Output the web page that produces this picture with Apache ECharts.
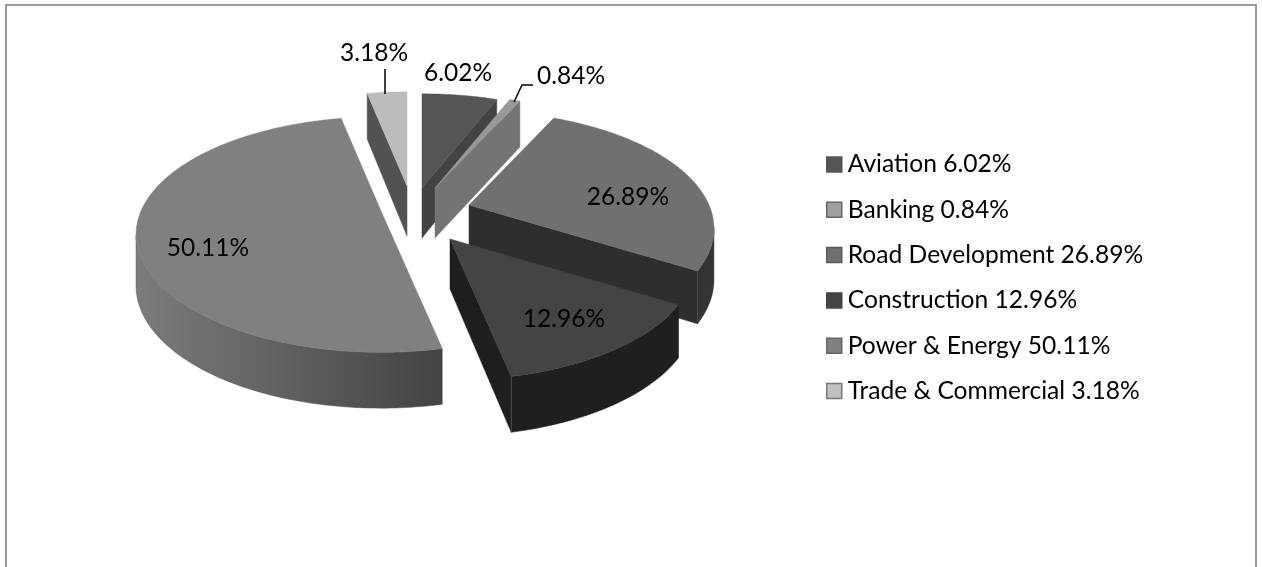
<!DOCTYPE html>
<html>
<head>
<meta charset="utf-8" />
<style>
  html, body { margin: 0; padding: 0; background: #fff; }
  #main { width: 1262px; height: 567px; }
</style>
<script src="https://cdn.jsdelivr.net/npm/echarts@6/dist/echarts.min.js"></script>
</head>
<body>
<div id="main"></div>
<script>
const categories = ['Aviation', 'Banking', 'Road Development', 'Construction', 'Power & Energy', 'Trade & Commercial']
const shares = [6.02, 0.84, 26.89, 12.96, 50.11, 3.18]

// ~~ look of each slice, same order as categories
const topColors = ['#555555', '#989898', '#707070', '#444444', '#808080', '#bcbcbc']
const cutColors = ['#434343', '#747474', '#2e2e2e', '#1e1e1e', null, '#525252']
const rimColors = ['#333333', '#333333', '#343434', '#1f1f1f', null, '#333333']
const legendBorders = ['#555555', '#666666', '#5a5a5a', '#444444', '#666666', '#777777']
const cutSides = ['end', 'end', 'end', 'end', null, 'start']
const drawOrder = [2, 3, 4, 6, 5, 1]
const explode = [[12, -22], [25, -22], [59, -5], [40, 29], [-29, 1], [-3, -24]]
const labelAt = [[458, 73], [571, 76], [628, 197], [564, 319], [208, 248], [374, 53]]

// perspective disk
const CX = 410, CY = 210, R = 240, H = 113, PERSP = 0.2, DEPTH = 50
const VISIBLE_FROM = 101, VISIBLE_TO = 258
const FONT = '24.5px Lato, Carlito, sans-serif'

const _project = function (deg, o) {
  const t = (deg * Math.PI) / 180
  const y = -Math.cos(t)
  const k = 1 / (1 - PERSP * y)
  return [o[0] + Math.sin(t) * R * k, o[1] + y * H * k, DEPTH * Math.sqrt(k)]
}

const _arc = function (from, to, o) {
  const pts = []
  const n = Math.max(2, Math.ceil(to - from))
  for (let i = 0; i <= n; i++) pts.push(_project(from + ((to - from) * i) / n, o))
  return pts
}

const _face = function (points, fill, z2) {
  return {
    type: 'polygon',
    z2: z2,
    shape: { points: points },
    style: { fill: fill, stroke: typeof fill === 'string' ? fill : '#555', lineWidth: 0.5 },
  }
}

const _renderSlice = function (idx) {
  return function (params, api) {
    const share = api.value(0)
    const start = (shares.slice(0, idx).reduce((a, b) => a + b, 0) / 100) * 360
    const end = start + (share / 100) * 360
    const o = [CX + explode[idx][0], CY + explode[idx][1]]
    const children = []

    // round side, only the part that faces the viewer
    const rimFrom = Math.max(start, VISIBLE_FROM)
    const rimTo = Math.min(end, VISIBLE_TO)
    if (rimTo > rimFrom) {
      const rim = _arc(rimFrom, rimTo, o)
      const pts = rim.map((p) => [p[0], p[1]]).concat(rim.slice().reverse().map((p) => [p[0], p[1] + p[2]]))
      let fill = rimColors[idx]
      if (!fill) {
        fill = new echarts.graphic.LinearGradient(136, 0, 441, 0, [
          { offset: 0, color: '#7c7c7c' },
          { offset: 0.5, color: '#5f5f5f' },
          { offset: 1, color: '#434343' },
        ], true)
      }
      children.push(_face(pts, fill, 1))
    }

    // cut side
    if (cutSides[idx]) {
      const p = _project(cutSides[idx] === 'end' ? end : start, o)
      children.push(_face([[o[0], o[1]], [p[0], p[1]], [p[0], p[1] + p[2]], [o[0], o[1] + DEPTH]], cutColors[idx], 2))
      // lighter edge where the cut meets the round side
      if (rimTo > rimFrom) {
        children.push({
          type: 'line',
          z2: 2,
          shape: { x1: p[0], y1: p[1], x2: p[0], y2: p[1] + p[2] },
          style: { stroke: '#4c4c4c', lineWidth: 1 },
        })
      }
    }

    // top
    const top = _arc(start, end, o).map((p) => [p[0], p[1]])
    top.push([o[0], o[1]])
    children.push(_face(top, topColors[idx], 3))

    children.push({
      type: 'text',
      z2: 5,
      style: {
        x: labelAt[idx][0],
        y: labelAt[idx][1],
        text: share.toFixed(2) + '%',
        font: FONT,
        fill: '#000',
        align: 'center',
        verticalAlign: 'middle',
      },
    })

    return { type: 'group', children: children }
  }
}

const legendNames = categories.map((c, i) => c + ' ' + shares[i].toFixed(2) + '%')
const legendFills = ['#555555', '#a0a0a0', '#707070', '#444444', '#808080', '#c0c0c0']

const option = {
  animation: false,
  backgroundColor: '#fff',
  textStyle: { fontFamily: 'Lato, Carlito, sans-serif' },
  legend: {
    orient: 'vertical',
    left: 826,
    top: 152,
    padding: 0,
    itemWidth: 15,
    itemHeight: 15,
    itemGap: 20.3,
    selectedMode: false,
    icon: 'rect',
    textStyle: { fontSize: 24.6, color: '#000', padding: [0, 0, 0, 1] },
    data: legendNames.map((n, i) => ({
      name: n,
      itemStyle: { color: legendFills[i], borderColor: legendBorders[i], borderWidth: 1.5 },
    })),
  },
  graphic: [
    {
      type: 'polyline',
      silent: true,
      shape: { points: [[6, 567], [6, 5], [1256, 5], [1256, 567]] },
      style: { fill: null, stroke: '#9a9a9a', lineWidth: 2 },
    },
    {
      type: 'polyline',
      z: 10,
      shape: { points: [[385, 69], [385, 94]] },
      style: { fill: null, stroke: '#000', lineWidth: 1.5 },
    },
    {
      type: 'polyline',
      z: 10,
      shape: { points: [[533, 85], [522, 85], [514, 102]] },
      style: { fill: null, stroke: '#000', lineWidth: 1.5 },
    },
  ],
  series: categories.map((c, i) => ({
    type: 'custom',
    name: legendNames[i],
    coordinateSystem: 'none',
    z: drawOrder[i],
    silent: true,
    itemStyle: { color: legendFills[i] },
    renderItem: _renderSlice(i),
    data: [[shares[i]]],
  })),
}

const chart = echarts.init(document.getElementById('main'))
chart.setOption(option)
</script>
</body>
</html>
